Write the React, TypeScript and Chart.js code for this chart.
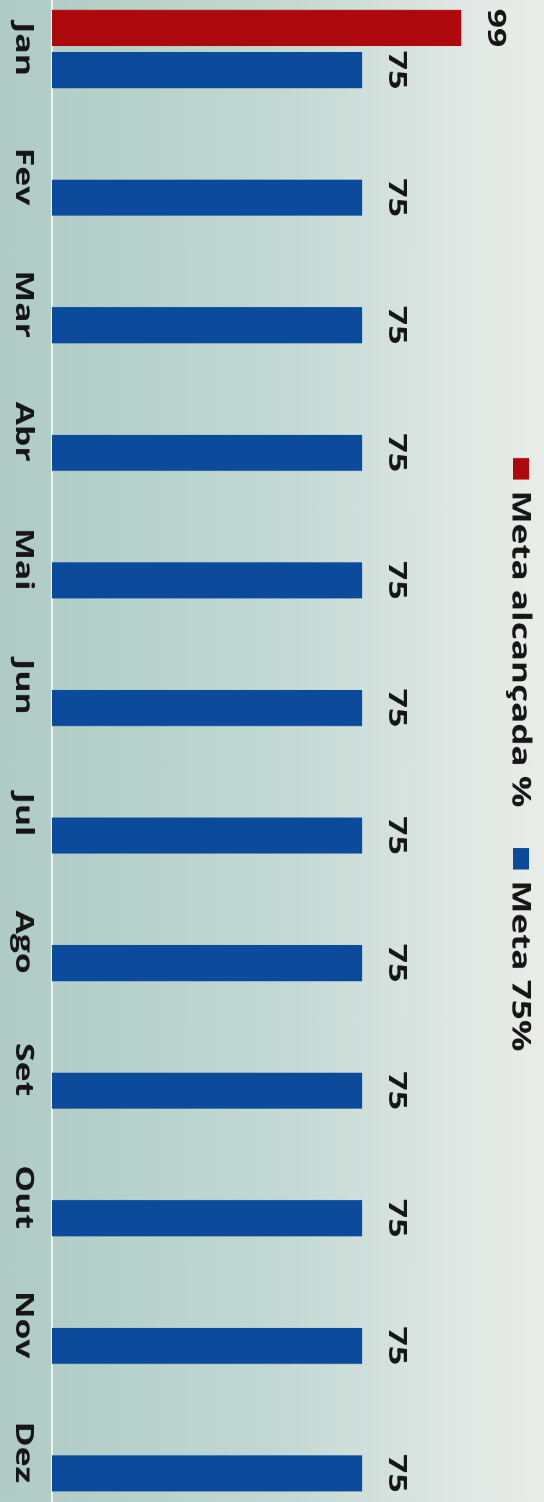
import React, { useEffect, useRef } from "react";
import { Chart, registerables } from "chart.js";

Chart.register(...registerables);

const categories = ["Jan", "Fev", "Mar", "Abr", "Mai", "Jun", "Jul", "Ago", "Set", "Out", "Nov", "Dez"];
const achievedValues: (number | null)[] = [99, null, null, null, null, null, null, null, null, null, null, null];
const targetValues: number[] = [75, 75, 75, 75, 75, 75, 75, 75, 75, 75, 75, 75];
const seriesLabels = ["Meta alcançada %", "Meta 75%"];
const seriesColors = ["#ad080c", "#0c4a9c"];

const STRETCH = 1.35;
const CANVAS_W = 1134;
const CANVAS_H = 558;
const TEXT_COLOR = "#161616";
const FONT = '"Open Sans", "DejaVu Sans", sans-serif';

const valueLabels = {
  id: "valueLabels",
  afterDatasetsDraw(chart: any) {
    const ctx = chart.ctx;
    ctx.save();
    ctx.font = `bold 25px ${FONT}`;
    ctx.fillStyle = TEXT_COLOR;
    ctx.textAlign = "center";
    ctx.textBaseline = "middle";
    chart.data.datasets.forEach((ds: any, i: number) => {
      const meta = chart.getDatasetMeta(i);
      meta.data.forEach((bar: any, j: number) => {
        const v = ds.data[j];
        if (v == null) return;
        ctx.fillText(String(v), bar.x, bar.y - 34);
      });
    });
    ctx.restore();
  },
};

const customLegend = {
  id: "customLegend",
  afterDraw(chart: any) {
    const ctx = chart.ctx;
    ctx.save();
    ctx.font = `bold 26px ${FONT}`;
    const box = 16;
    const gap = 8;
    const spacing = 30;
    const items = chart.data.datasets.map((ds: any) => ({ text: ds.label, color: ds.backgroundColor }));
    const widths = items.map((it: any) => box + gap + ctx.measureText(it.text).width);
    const total = widths.reduce((a: number, b: number) => a + b, 0) + spacing * (items.length - 1);
    let x = (chart.width - total) / 2 + 3;
    const cy = 23;
    items.forEach((it: any, i: number) => {
      ctx.fillStyle = it.color;
      ctx.fillRect(x, cy - box / 2, box, box);
      ctx.fillStyle = TEXT_COLOR;
      ctx.textAlign = "left";
      ctx.textBaseline = "middle";
      ctx.fillText(it.text, x + box + gap, cy + 1);
      x += widths[i] + spacing;
    });
    ctx.restore();
  },
};

export default function App() {
  const canvasRef = useRef<HTMLCanvasElement | null>(null);

  useEffect(() => {
    if (!canvasRef.current) return;
    const chart = new Chart(canvasRef.current, {
      type: "bar",
      data: {
        labels: categories,
        datasets: [
          {
            label: seriesLabels[0],
            data: achievedValues,
            backgroundColor: seriesColors[0],
            categoryPercentage: 0.66,
            barPercentage: 0.857,
          },
          {
            label: seriesLabels[1],
            data: targetValues,
            backgroundColor: seriesColors[1],
            categoryPercentage: 0.66,
            barPercentage: 0.857,
          },
        ],
      },
      options: {
        animation: false,
        responsive: false,
        devicePixelRatio: 2,
        events: [],
        layout: { padding: { top: 0, bottom: 8, left: 0, right: 0 } },
        plugins: {
          legend: { display: false },
          tooltip: { enabled: false },
          title: { display: false },
        },
        scales: {
          x: {
            grid: { display: false, drawTicks: false },
            border: { display: true, color: "rgba(255,255,255,0.75)", width: 2 },
            ticks: {
              font: { family: FONT, weight: "bold", size: 25 },
              color: TEXT_COLOR,
              padding: 14,
              maxRotation: 0,
              autoSkip: false,
            },
          },
          y: { display: false, min: 0, max: 119 },
        },
      },
      plugins: [valueLabels, customLegend],
    });
    return () => chart.destroy();
  }, []);

  return (
    <div
      style={{
        position: "fixed",
        left: 0,
        top: 0,
        width: 544,
        height: 1502,
        overflow: "hidden",
        background:
          "linear-gradient(to right, #b0cbc5 0%, #b7d2cb 25%, #c2d8d2 50%, #d4e1dd 72%, #e3e9e6 88%, #e9ece9 100%)",
      }}
    >
      <div
        style={{
          position: "absolute",
          left: 0,
          top: 0,
          width: CANVAS_W,
          height: CANVAS_H,
          transformOrigin: "0 0",
          transform: `translate(544px, -14.75px) rotate(90deg) scale(${STRETCH}, 1)`,
        }}
      >
        <canvas ref={canvasRef} width={CANVAS_W} height={CANVAS_H} style={{ display: "block" }} />
      </div>
    </div>
  );
}
